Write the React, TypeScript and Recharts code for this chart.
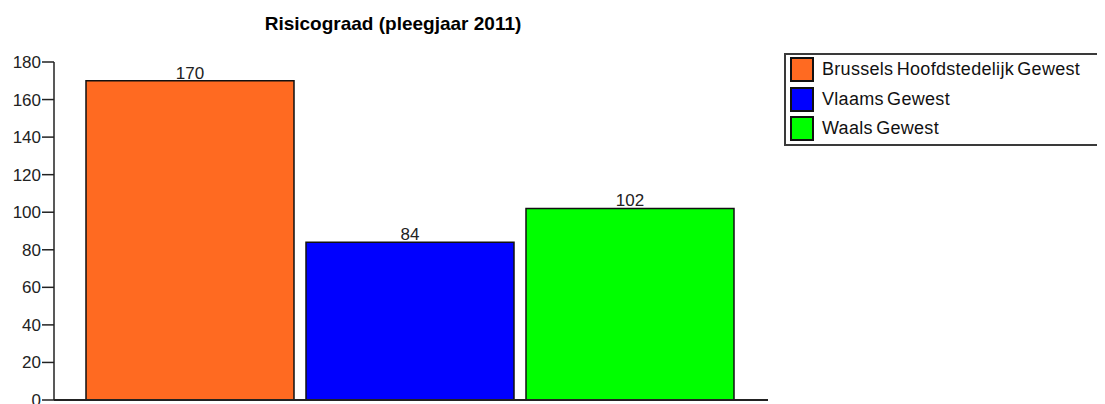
import React from 'react';
import { BarChart, Bar, XAxis, YAxis, LabelList } from 'recharts';

const categories = ['Risicograad (pleegjaar 2011)'];
const seriesNames = ['Brussels Hoofdstedelijk Gewest', 'Vlaams Gewest', 'Waals Gewest'];
const seriesValues = [170, 84, 102];
const seriesColors = ['#FF6A21', '#0000FF', '#00FF00'];
const yTicks = [0, 20, 40, 60, 80, 100, 120, 140, 160, 180];
const titleText = 'Risicograad (pleegjaar 2011)';

const data = categories.map((c) => {
  const row: Record<string, string | number> = { name: c };
  seriesValues.forEach((v, i) => {
    row['s' + i] = v;
  });
  return row;
});

const FONT = '"Liberation Sans", Arial, sans-serif';

export default function App() {
  return (
    <div style={{ position: 'relative', width: 1097, height: 396, fontFamily: FONT }}>
      <div
        style={{
          position: 'absolute',
          left: 385 - 200,
          width: 400,
          top: 6,
          textAlign: 'center',
          fontWeight: 'bold',
          fontSize: 19,
          lineHeight: '20px',
          color: '#000',
        }}
      >
        {titleText}
      </div>
      <BarChart
        width={1097}
        height={396}
        data={data}
        margin={{ top: 54, right: 337, bottom: 2, left: 0 }}
        barCategoryGap={32}
        barGap={12}
      >
        <XAxis
          dataKey="name"
          tick={false}
          tickLine={false}
          height={2}
          padding={{ left: 0, right: 3 }}
          axisLine={{ stroke: '#222', strokeWidth: 2 }}
        />
        <YAxis
          width={46}
          domain={[0, 180]}
          ticks={yTicks}
          interval={0}
          tickSize={12}
          tickMargin={1}
          axisLine={{ stroke: '#222', strokeWidth: 1.5 }}
          tickLine={{ stroke: '#222', strokeWidth: 1.5 }}
          tick={{ fill: '#222', fontSize: 17, fontFamily: FONT }}
        />
        {seriesNames.map((n, i) => (
          <Bar
            key={n}
            dataKey={'s' + i}
            name={n}
            fill={seriesColors[i]}
            stroke="#111"
            strokeWidth={1.5}
            isAnimationActive={false}
          >
            <LabelList
              dataKey={'s' + i}
              position="top"
              offset={2}
              style={{ fill: '#222', fontSize: 17, fontFamily: FONT }}
            />
          </Bar>
        ))}
      </BarChart>
      <div
        style={{
          position: 'absolute',
          left: 776,
          top: 45,
          width: 319,
          height: 93,
          boxSizing: 'border-box',
          border: '2px solid #3a3a3a',
          background: '#fff',
        }}
      >
        {seriesNames.map((n, i) => (
          <div
            key={n}
            style={{
              position: 'absolute',
              left: 4,
              top: 2 + i * 29.5,
              height: 25,
              display: 'flex',
              alignItems: 'center',
            }}
          >
            <div
              style={{
                width: 24,
                height: 25,
                boxSizing: 'border-box',
                border: '2px solid #111',
                background: seriesColors[i],
              }}
            />
            <span
              style={{
                marginLeft: 8,
                fontSize: 18,
                color: '#111',
                whiteSpace: 'nowrap',
                letterSpacing: 0.3,
                wordSpacing: -2,
              }}
            >
              {n}
            </span>
          </div>
        ))}
      </div>
    </div>
  );
}
